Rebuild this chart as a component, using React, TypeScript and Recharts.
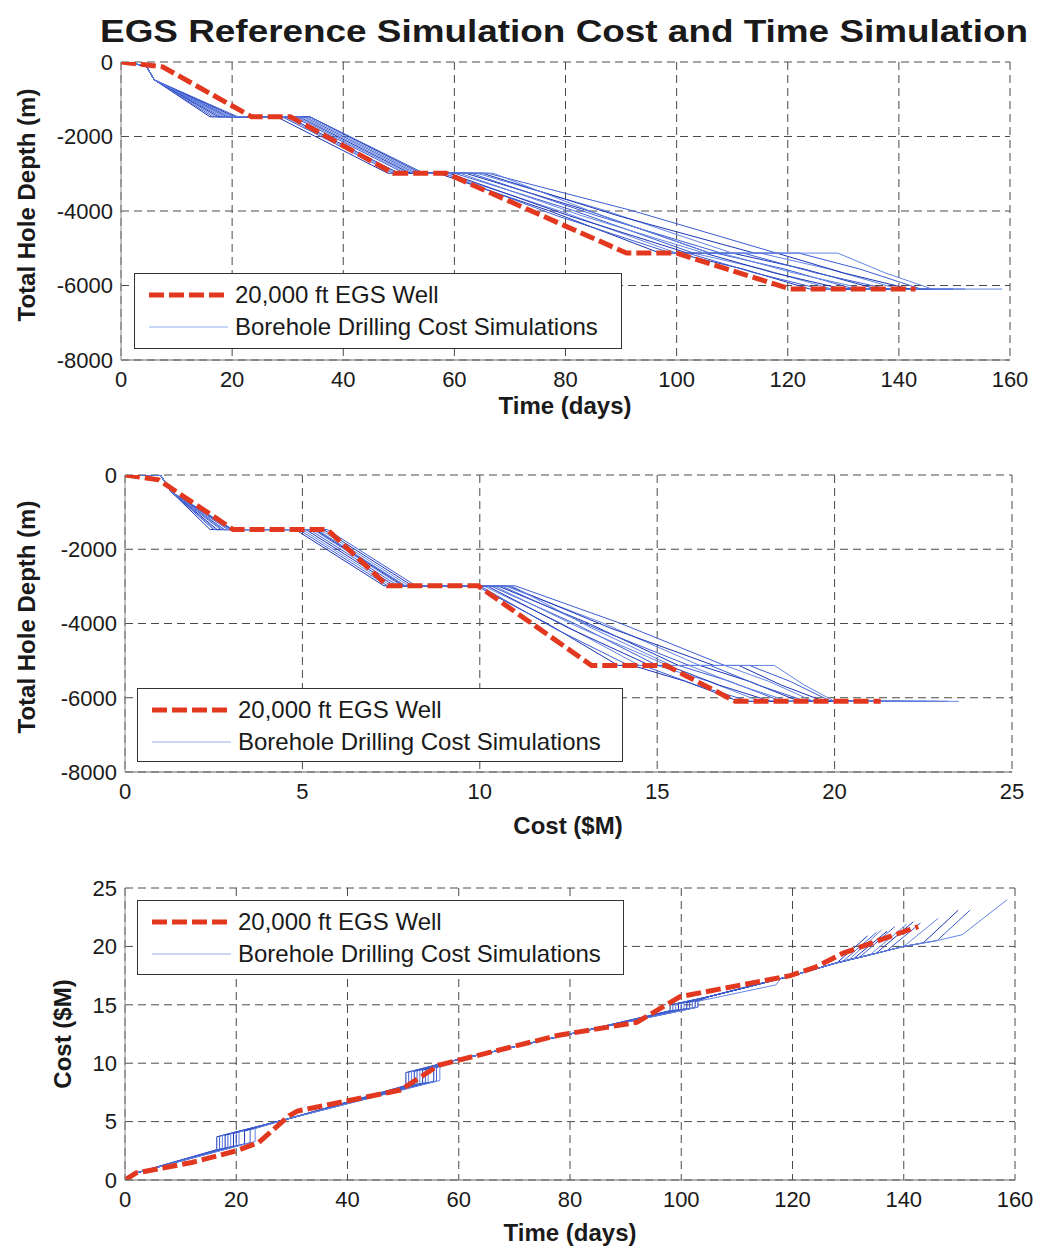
import { LineChart, Line, XAxis, YAxis, CartesianGrid } from 'recharts';

const FONT = '"Liberation Sans", Arial, Helvetica, sans-serif';
const RED = '#e2381f';
const BLUES = ['#1c36b4', '#3d5dd2', '#6585e3'];

// axis ticks
const dayTicks = [0, 20, 40, 60, 80, 100, 120, 140, 160];
const costTicks = [0, 5, 10, 15, 20, 25];
const depthTicks = [-8000, -6000, -4000, -2000, 0];

// 20,000 ft reference well
const wellTimeDepth = [[0, 0], [7.5, -130], [23.5, -1470], [30.5, -1470], [49, -2985], [58.5, -2985], [91, -5130], [100, -5130], [120.5, -6096], [143, -6096]];
const wellCostDepth = [[0, 0], [0.95, -130], [3.05, -1470], [5.7, -1470], [7.4, -2985], [9.95, -2985], [13.15, -5130], [15.25, -5130], [17.2, -6096], [21.3, -6096]];
const wellTimeCost = [[0, 0], [2, 0.6], [12, 1.5], [20, 2.5], [24, 3.2], [29.5, 5.5], [31, 5.9], [49.5, 7.7], [56.5, 9.85], [78, 12.4], [92, 13.5], [99.8, 15.7], [119.6, 17.5], [124, 18.2], [129, 19.4], [142.6, 21.7]];

// simulations: time (days) vs depth (m)
const simTimeDepth = [
  [[0, 0], [4.5, -100], [6, -480], [16, -1470], [28, -1470], [48, -2985], [57, -2985], [77, -3990], [97, -5130], [100, -5130], [112, -5560], [124, -6096], [133.5, -6096]],
  [[0, 0], [4.5, -100], [6, -480], [16.5, -1470], [29, -1470], [49, -2985], [58, -2985], [78.5, -4130], [99, -5130], [102, -5130], [114, -5660], [126, -6096], [135.1, -6096]],
  [[0, 0], [4.5, -100], [6, -480], [17, -1470], [29.5, -1470], [49.5, -2985], [58, -2985], [79, -4000], [100, -5130], [103, -5130], [115.5, -5560], [128, -6096], [136, -6096]],
  [[0, 0], [4.5, -100], [6, -480], [17.5, -1470], [30, -1470], [50, -2985], [59, -2985], [80.5, -4120], [102, -5130], [105, -5130], [117.5, -5660], [130, -6096], [137, -6096]],
  [[0, 0], [4.5, -100], [6, -480], [18, -1470], [31, -1470], [51, -2985], [60, -2985], [81.5, -3990], [103, -5130], [107, -5130], [119.5, -5560], [132, -6096], [138.4, -6096]],
  [[0, 0], [4.5, -100], [6, -480], [18.5, -1470], [31.5, -1470], [51.5, -2985], [61, -2985], [83, -4130], [105, -5130], [108, -5130], [121, -5660], [134, -6096], [140.5, -6096]],
  [[0, 0], [4.5, -100], [6, -480], [19, -1470], [32, -1470], [52, -2985], [62, -2985], [84, -3990], [106, -5130], [110, -5130], [123, -5560], [136, -6096], [141.7, -6096]],
  [[0, 0], [4.5, -100], [6, -480], [19.5, -1470], [33, -1470], [53, -2985], [63, -2985], [85.5, -4120], [108, -5130], [112, -5130], [125, -5660], [138, -6096], [143, -6096]],
  [[0, 0], [4.5, -100], [6, -480], [20, -1470], [33.5, -1470], [53.5, -2985], [64, -2985], [87, -3980], [110, -5130], [115, -5130], [127.5, -5560], [140, -6096], [146.2, -6096]],
  [[0, 0], [4.5, -100], [6, -480], [20.5, -1470], [34, -1470], [54, -2985], [65, -2985], [89.5, -4130], [114, -5130], [118, -5130], [130, -5660], [142, -6096], [149.8, -6096]],
  [[0, 0], [4.5, -100], [6, -480], [21, -1470], [34, -1470], [54.5, -2985], [66, -2985], [92, -3990], [118, -5130], [122, -5130], [133, -5560], [144, -6096], [151.9, -6096]],
  [[0, 0], [4.5, -100], [6, -480], [19, -1470], [32.5, -1470], [52.5, -2985], [67, -2985], [86.5, -4120], [106, -5130], [129, -5130], [137.5, -5660], [146, -6096], [158.6, -6096]],
];

// simulations: cost ($M) vs depth (m)
const simCostDepth = [
  [[0, 0], [1, 0], [1.3, -450], [2.4, -1470], [4.8, -1470], [7.3, -2985], [9.9, -2985], [11.9, -4000], [13.9, -5130], [14.3, -5130], [15.8, -5560], [17.3, -6096], [20.5, -6096]],
  [[0, 0], [1, 0], [1.3, -450], [2.5, -1470], [4.9, -1470], [7.4, -2985], [10, -2985], [12.1, -4130], [14.2, -5130], [14.6, -5130], [16.1, -5660], [17.6, -6096], [20.8, -6096]],
  [[0, 0], [1, 0], [1.3, -450], [2.55, -1470], [5, -1470], [7.5, -2985], [10.1, -2985], [12.3, -4000], [14.5, -5130], [15, -5130], [16.45, -5560], [17.9, -6096], [21, -6096]],
  [[0, 0], [1, 0], [1.3, -450], [2.6, -1470], [5.1, -1470], [7.6, -2985], [10.2, -2985], [12.5, -4120], [14.8, -5130], [15.3, -5130], [16.75, -5660], [18.2, -6096], [21.2, -6096]],
  [[0, 0], [1, 0], [1.3, -450], [2.7, -1470], [5.2, -1470], [7.7, -2985], [10.3, -2985], [12.65, -3990], [15, -5130], [15.6, -5130], [17.05, -5560], [18.5, -6096], [21.5, -6096]],
  [[0, 0], [1, 0], [1.3, -450], [2.75, -1470], [5.3, -1470], [7.8, -2985], [10.4, -2985], [12.85, -4130], [15.3, -5130], [15.9, -5130], [17.3, -5660], [18.7, -6096], [21.8, -6096]],
  [[0, 0], [1, 0], [1.3, -450], [2.8, -1470], [5.35, -1470], [7.85, -2985], [10.5, -2985], [13.05, -3990], [15.6, -5130], [16.2, -5130], [17.6, -5560], [19, -6096], [22, -6096]],
  [[0, 0], [1, 0], [1.3, -450], [2.9, -1470], [5.4, -1470], [7.9, -2985], [10.6, -2985], [13.25, -4120], [15.9, -5130], [16.5, -5130], [17.85, -5660], [19.2, -6096], [22.3, -6096]],
  [[0, 0], [1, 0], [1.3, -450], [2.95, -1470], [5.5, -1470], [8, -2985], [10.7, -2985], [13.45, -3980], [16.2, -5130], [16.9, -5130], [18.15, -5560], [19.4, -6096], [22.6, -6096]],
  [[0, 0], [1, 0], [1.3, -450], [3, -1470], [5.6, -1470], [8.1, -2985], [10.8, -2985], [13.7, -4130], [16.6, -5130], [17.3, -5130], [18.5, -5660], [19.7, -6096], [22.9, -6096]],
  [[0, 0], [1, 0], [1.3, -450], [3.05, -1470], [5.7, -1470], [8.2, -2985], [11, -2985], [13.95, -3990], [16.9, -5130], [17.6, -5130], [18.75, -5560], [19.9, -6096], [23.2, -6096]],
  [[0, 0], [1, 0], [1.3, -450], [2.8, -1470], [5.4, -1470], [7.9, -2985], [10.9, -2985], [13.15, -4120], [15.4, -5130], [18.3, -5130], [19.15, -5660], [20, -6096], [23.5, -6096]],
];

// simulations: time (days) vs cost ($M)
const simTimeCost = [
  [[0, 0], [2, 0.6], [16.5, 2.6], [16.5, 3.7], [29, 5.2], [50.5, 8.1], [50.5, 9.2], [58, 10.1], [80, 12.5], [98, 14.5], [98, 15], [105, 15.7], [120, 17.5], [128, 18.6], [133.5, 20.9]],
  [[0, 0], [2, 0.6], [17, 2.65], [17, 3.75], [29, 5.2], [51, 8.13], [51, 9.23], [58, 10.1], [80, 12.5], [98.5, 14.53], [98.5, 15.03], [105, 15.7], [120, 17.5], [128, 18.6], [129, 18.7], [135.1, 21.2]],
  [[0, 0], [2, 0.6], [17.5, 2.7], [17.5, 3.8], [29, 5.2], [51.5, 8.17], [51.5, 9.27], [58, 10.1], [80, 12.5], [99, 14.56], [99, 15.06], [105, 15.7], [120, 17.5], [128, 18.6], [130, 18.8], [136, 21.4]],
  [[0, 0], [2, 0.6], [18, 2.75], [18, 3.85], [29, 5.2], [52, 8.2], [52, 9.3], [58, 10.1], [80, 12.5], [99.5, 14.59], [99.5, 15.09], [105, 15.7], [120, 17.5], [128, 18.6], [131, 18.95], [137, 21.3]],
  [[0, 0], [2, 0.6], [18.5, 2.8], [18.5, 3.9], [29, 5.2], [52.5, 8.24], [52.5, 9.34], [58, 10.1], [80, 12.5], [100, 14.62], [100, 15.12], [105, 15.7], [120, 17.5], [128, 18.6], [132, 19.05], [138.4, 21.7]],
  [[0, 0], [2, 0.6], [19, 2.85], [19, 3.95], [29, 5.2], [53, 8.27], [53, 9.37], [58, 10.1], [80, 12.5], [100.5, 14.65], [100.5, 15.15], [105, 15.7], [120, 17.5], [128, 18.6], [134, 19.3], [140.5, 21.9]],
  [[0, 0], [2, 0.6], [19.5, 2.9], [19.5, 4], [29, 5.2], [53.5, 8.31], [53.5, 9.41], [58, 10.1], [80, 12.5], [101, 14.68], [101, 15.18], [105, 15.7], [120, 17.5], [128, 18.6], [135, 19.4], [141.7, 22.1]],
  [[0, 0], [2, 0.6], [20, 2.95], [20, 4.05], [29, 5.2], [54, 8.34], [54, 9.44], [58, 10.1], [80, 12.5], [101.5, 14.71], [101.5, 15.21], [105, 15.7], [120, 17.5], [128, 18.6], [135, 19.4], [137, 19.65], [143, 22]],
  [[0, 0], [2, 0.6], [20.5, 3], [20.5, 4.1], [29, 5.2], [54.5, 8.38], [54.5, 9.48], [58, 10.1], [80, 12.5], [102, 14.74], [102, 15.24], [105, 15.7], [120, 17.5], [128, 18.6], [135, 19.4], [140, 20], [146.2, 22.4]],
  [[0, 0], [2, 0.6], [21.5, 3.1], [21.5, 4.2], [29, 5.2], [55.5, 8.45], [55.5, 9.55], [58, 10.1], [80, 12.5], [102.5, 14.77], [102.5, 15.27], [105, 15.7], [120, 17.5], [128, 18.6], [135, 19.4], [140, 20], [143.5, 20.3], [149.8, 23.1]],
  [[0, 0], [2, 0.6], [22.5, 3.2], [22.5, 4.3], [29, 5.2], [56, 8.48], [56, 9.58], [58, 10.1], [80, 12.5], [103, 14.8], [103, 15.3], [105, 15.7], [120, 17.5], [128, 18.6], [135, 19.4], [140, 20], [146, 20.5], [151.9, 23.1]],
  [[0, 0], [2, 0.6], [23.4, 3.3], [23.4, 4.4], [29, 5.2], [56.6, 8.52], [56.6, 9.62], [58, 10.1], [80, 12.5], [103, 14.8], [103, 15.3], [105, 15.5], [117, 16.7], [118, 17.3], [120, 17.5], [128, 18.6], [135, 19.4], [140, 20], [146, 20.5], [150.5, 21], [158.6, 24]],
];

const toPoints = (pts: number[][]) => pts.map(([x, y]) => ({ x, y }));

const tickStyle = { fill: '#1a1a1a', fontSize: 22, fontFamily: FONT };

function Panel({ top, height, left, right, xDomain, xTicks, yDomain, yTicks, well, sims }: {
  top: number; height: number; left: number; right: number;
  xDomain: number[]; xTicks: number[]; yDomain: number[]; yTicks: number[];
  well: number[][]; sims: number[][][];
}) {
  return (
    <div style={{ position: 'absolute', left: 0, top }}>
      <LineChart width={1041} height={height} margin={{ top: 62, right, left: 0, bottom: 0 }}>
        <CartesianGrid stroke="#4a4a4a" strokeDasharray="8 5" />
        <XAxis
          dataKey="x" type="number" domain={xDomain} ticks={xTicks} interval={0}
          height={60} tickSize={0} tickMargin={11} tickLine={false}
          axisLine={{ stroke: '#6a6a6a' }} tick={tickStyle} allowDataOverflow
        />
        <YAxis
          type="number" domain={yDomain} ticks={yTicks} interval={0}
          width={left} tickSize={0} tickMargin={8} tickLine={false}
          axisLine={{ stroke: '#8a8a8a' }} tick={tickStyle} allowDataOverflow
        />
        {sims.map((s, i) => (
          <Line
            key={i} type="linear" data={toPoints(s)} dataKey="y"
            stroke={BLUES[i % 3]} strokeWidth={1} dot={false} activeDot={false}
            isAnimationActive={false}
          />
        ))}
        <Line
          type="linear" data={toPoints(well)} dataKey="y"
          stroke={RED} strokeWidth={5} strokeDasharray="15 5"
          dot={false} activeDot={false} isAnimationActive={false}
        />
      </LineChart>
    </div>
  );
}

function LegendBox({ left, top, width, height }: { left: number; top: number; width: number; height: number }) {
  const row = (y: number, sample: JSX.Element, label: string) => (
    <div style={{ position: 'absolute', left: 0, top: y - 15, height: 30, display: 'flex', alignItems: 'center' }}>
      <svg width={100} height={30} style={{ display: 'block' }}>{sample}</svg>
      <span style={{ whiteSpace: 'nowrap', lineHeight: '30px' }}>{label}</span>
    </div>
  );
  return (
    <div style={{
      position: 'absolute', left, top, width, height, boxSizing: 'border-box',
      background: '#fff', border: '1px solid #333', fontFamily: FONT, fontSize: 24, color: '#1a1a1a',
    }}>
      {row(21, <line x1={14} x2={93} y1={15} y2={15} stroke={RED} strokeWidth={5} strokeDasharray="15 5" />, '20,000 ft EGS Well')}
      {row(53, <line x1={14} x2={93} y1={15} y2={15} stroke="#8eaeea" strokeWidth={1} />, 'Borehole Drilling Cost Simulations')}
    </div>
  );
}

const axisTitle = (text: string, x: number, y: number, vertical = false) => (
  <div style={{
    position: 'absolute', left: x, top: y, whiteSpace: 'nowrap',
    transform: `translate(-50%, -50%)${vertical ? ' rotate(-90deg)' : ''}`,
    fontFamily: FONT, fontWeight: 700, fontSize: 24, lineHeight: '24px', color: '#1a1a1a',
  }}>{text}</div>
);

export default function App() {
  return (
    <div style={{ position: 'absolute', left: 0, top: 0, width: 1041, height: 1249, background: '#fff', overflow: 'hidden' }}>
      <div style={{
        position: 'absolute', left: 564, top: 20, whiteSpace: 'nowrap', lineHeight: '24px',
        transform: 'translateX(-50%) scaleX(1.19)', fontFamily: FONT, fontWeight: 700, fontSize: 31, color: '#1a1a1a',
      }}>
        EGS Reference Simulation Cost and Time Simulation
      </div>

      <Panel top={0} height={420} left={121} right={31} xDomain={[0, 160]} xTicks={dayTicks}
        yDomain={[-8000, 0]} yTicks={depthTicks} well={wellTimeDepth} sims={simTimeDepth} />
      <Panel top={413} height={419} left={125} right={29} xDomain={[0, 25]} xTicks={costTicks}
        yDomain={[-8000, 0]} yTicks={depthTicks} well={wellCostDepth} sims={simCostDepth} />
      <Panel top={826} height={414} left={125} right={26} xDomain={[0, 160]} xTicks={dayTicks}
        yDomain={[0, 25]} yTicks={costTicks} well={wellTimeCost} sims={simTimeCost} />

      <LegendBox left={134} top={273} width={488} height={76} />
      <LegendBox left={137} top={688} width={486} height={74} />
      <LegendBox left={137} top={900} width={487} height={75} />

      {axisTitle('Time (days)', 565, 406)}
      {axisTitle('Cost ($M)', 568, 826)}
      {axisTitle('Time (days)', 570, 1233)}
      {axisTitle('Total Hole Depth (m)', 27, 205, true)}
      {axisTitle('Total Hole Depth (m)', 27, 617, true)}
      {axisTitle('Cost ($M)', 63, 1034, true)}
    </div>
  );
}
